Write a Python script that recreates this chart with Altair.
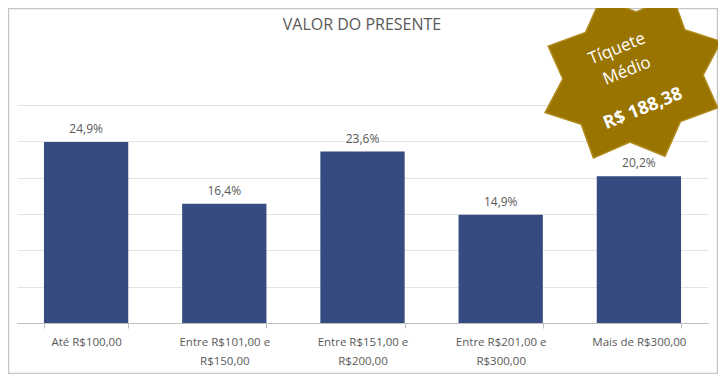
import math
import altair as alt
import pandas as pd

# ---- data ----
categories = [
    "Até R$100,00",
    "Entre R$101,00 e R$150,00",
    "Entre R$151,00 e R$200,00",
    "Entre R$201,00 e R$300,00",
    "Mais de R$300,00",
]
shares = [0.249, 0.164, 0.236, 0.149, 0.202]
grid_values = [0, 0.05, 0.10, 0.15, 0.20, 0.25, 0.30]
title_text = "VALOR DO PRESENTE"
badge_lines = ["Tíquete", "Médio"]
ticket_medio = 188.38

df = pd.DataFrame({"cat": categories, "v": shares})

FONT = "Open Sans"
GRAY = "#595959"
BAR = "#364b80"
W, H = 691, 218

# 8-point star path (unit coords), slightly wider than tall
pts = []
for k in range(16):
    a = math.pi * k / 8
    r = 1.0 if k % 2 == 0 else 0.75
    pts.append((r * math.cos(a), 0.9 * r * math.sin(a)))
star_path = "M" + " L".join(f"{x:.4f},{y:.4f}" for x, y in pts) + " Z"

xenc = alt.X(
    "cat:N",
    sort=None,
    title=None,
    scale=alt.Scale(paddingInner=0.39, paddingOuter=0.195),
    axis=alt.Axis(
        labelAngle=0,
        labelFont=FONT,
        labelFontSize=11.5,
        labelColor=GRAY,
        labelPadding=8,
        labelLineHeight=19,
        labelExpr="split(datum.label, ' e ').length > 1 ? [split(datum.label, ' e ')[0] + ' e', split(datum.label, ' e ')[1]] : datum.label",
        tickBand="extent",
        tickSize=5,
        tickColor="#bfbfbf",
        domainColor="#bfbfbf",
        grid=False,
    ),
)
yenc = alt.Y(
    "v:Q",
    title=None,
    scale=alt.Scale(domain=[0, 0.30], nice=False, zero=True),
    axis=alt.Axis(
        values=grid_values,
        labels=False,
        ticks=False,
        domain=False,
        grid=True,
        gridColor="#e3e3e3",
        gridWidth=1,
    ),
)

base = alt.Chart(df)

frame = base.transform_filter("datum.cat == 'Até R$100,00'").mark_rect(
    fillOpacity=0, stroke="#c6c6c6", strokeWidth=1.5
).encode(
    x=alt.value(-8.5), x2=alt.value(700.5), y=alt.value(-96.5), y2=alt.value(268.5)
)

bars = base.mark_bar(color=BAR).encode(x=xenc, y=yenc)

labels = base.transform_calculate(
    lbl="replace(format(datum.v * 100, '.1f'), '.', ',') + '%'"
).mark_text(dy=-6, font=FONT, fontSize=12, color=GRAY, baseline="bottom").encode(
    x=xenc, y=yenc, text="lbl:N"
)

one = alt.Chart(pd.DataFrame({"t": [title_text]}))
title = one.mark_text(font=FONT, fontSize=16, color=GRAY).encode(
    x=alt.value(345), y=alt.value(-80), text="t:N"
)

star = one.mark_point(
    shape=star_path, size=36000, angle=338, filled=True,
    fill="#9a7400", fillOpacity=1, stroke="#b08b1c", strokeWidth=1.5, opacity=1
).encode(x=alt.value(616), y=alt.value(-28))

b1 = alt.Chart(pd.DataFrame({"t": [badge_lines[0]]})).mark_text(
    font=FONT, fontSize=17, color="white", angle=338
).encode(x=alt.value(600), y=alt.value(-56), text="t:N")
b2 = alt.Chart(pd.DataFrame({"t": [badge_lines[1]]})).mark_text(
    font=FONT, fontSize=17, color="white", angle=338
).encode(x=alt.value(610), y=alt.value(-34), text="t:N")
b3 = alt.Chart(pd.DataFrame({"m": [ticket_medio]})).transform_calculate(
    t="'R$ ' + replace(format(datum.m, '.2f'), '.', ',')"
).mark_text(
    font=FONT, fontSize=18, fontWeight="bold", color="white", angle=338
).encode(x=alt.value(626), y=alt.value(4), text="t:N")

chart = alt.layer(frame, bars, labels, title, star, b1, b2, b3).properties(
    width=W,
    height=H,
    autosize=alt.AutoSizeParams(type="none"),
    padding={"left": 9, "top": 97, "right": 10, "bottom": 51},
    background="white",
).configure_view(stroke=None)

chart.save("out.html", embed_options={"renderer": "svg", "actions": False})
